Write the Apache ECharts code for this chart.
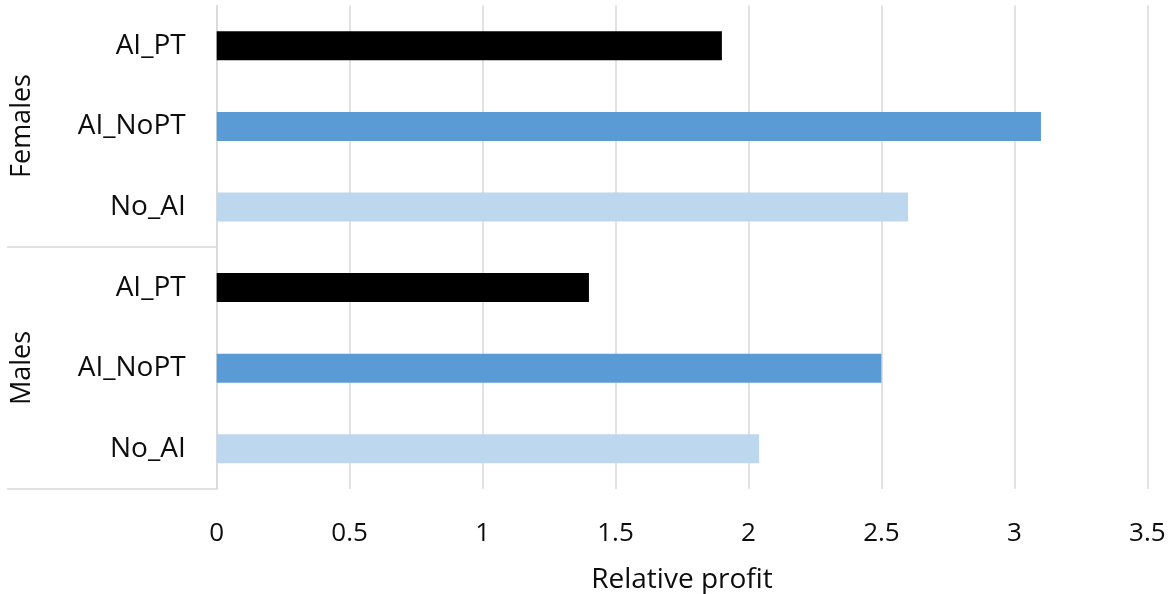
<!DOCTYPE html>
<html>
<head>
<meta charset="utf-8">
<script src="https://cdn.jsdelivr.net/npm/echarts@6/dist/echarts.min.js"></script>
<style>
html,body{margin:0;padding:0;background:#fff;}
#chart{width:1172px;height:594px;}
</style>
</head>
<body>
<div id="chart"></div>
<script>
// Data
const categories = ['AI_PT', 'AI_NoPT', 'No_AI', 'AI_PT', 'AI_NoPT', 'No_AI'];
const groups = ['Females', 'Males'];
const values = [1.9, 3.1, 2.6, 1.4, 2.5, 2.04];
const barColors = ['#000000', '#5B9BD5', '#BDD7EE', '#000000', '#5B9BD5', '#BDD7EE'];
const xTicks = [0, 0.5, 1, 1.5, 2, 2.5, 3, 3.5];

const FONT = 'Open Sans';
const TXT = '#0d0d0d';
const chart = echarts.init(document.getElementById('chart'), null, {renderer: 'canvas'});

chart.setOption({
  animation: false,
  backgroundColor: '#ffffff',
  grid: {left: 216.7, right: 24.7, top: 5.5, bottom: 105, containLabel: false, outerBoundsMode: 'none'},
  xAxis: {
    type: 'value',
    min: xTicks[0],
    max: xTicks[xTicks.length - 1],
    interval: 0.5,
    name: 'Relative profit',
    nameLocation: 'middle',
    nameGap: 77,
    nameTextStyle: {fontFamily: FONT, fontSize: 28, color: TXT},
    axisLine: {show: false},
    axisTick: {show: false},
    axisLabel: {fontFamily: FONT, fontSize: 26, color: TXT, margin: 32,
      formatter: v => String(v)},
    splitLine: {show: true, lineStyle: {color: '#d9d9d9', width: 1.5}}
  },
  yAxis: {
    type: 'category',
    inverse: true,
    data: categories,
    axisLine: {show: true, lineStyle: {color: '#d9d9d9', width: 1.5}},
    axisTick: {show: false},
    axisLabel: {fontFamily: FONT, fontSize: 28, color: TXT, margin: 31}
  },
  series: [{
    type: 'bar',
    barWidth: 29,
    data: values.map((v, i) => ({value: v, itemStyle: {color: barColors[i]}}))
  }],
  graphic: [
    {type: 'line', shape: {x1: 7, y1: 247, x2: 216.7, y2: 247}, style: {stroke: '#d9d9d9', lineWidth: 1.5}},
    {type: 'line', shape: {x1: 7, y1: 489, x2: 216.7, y2: 489}, style: {stroke: '#d9d9d9', lineWidth: 1.5}},
    {type: 'text', x: 22, y: 126, rotation: Math.PI / 2,
      style: {text: groups[0], font: '27px "Open Sans"', fill: TXT, align: 'center', verticalAlign: 'middle'}},
    {type: 'text', x: 22, y: 368, rotation: Math.PI / 2,
      style: {text: groups[1], font: '27px "Open Sans"', fill: TXT, align: 'center', verticalAlign: 'middle'}}
  ]
});
</script>
</body>
</html>
